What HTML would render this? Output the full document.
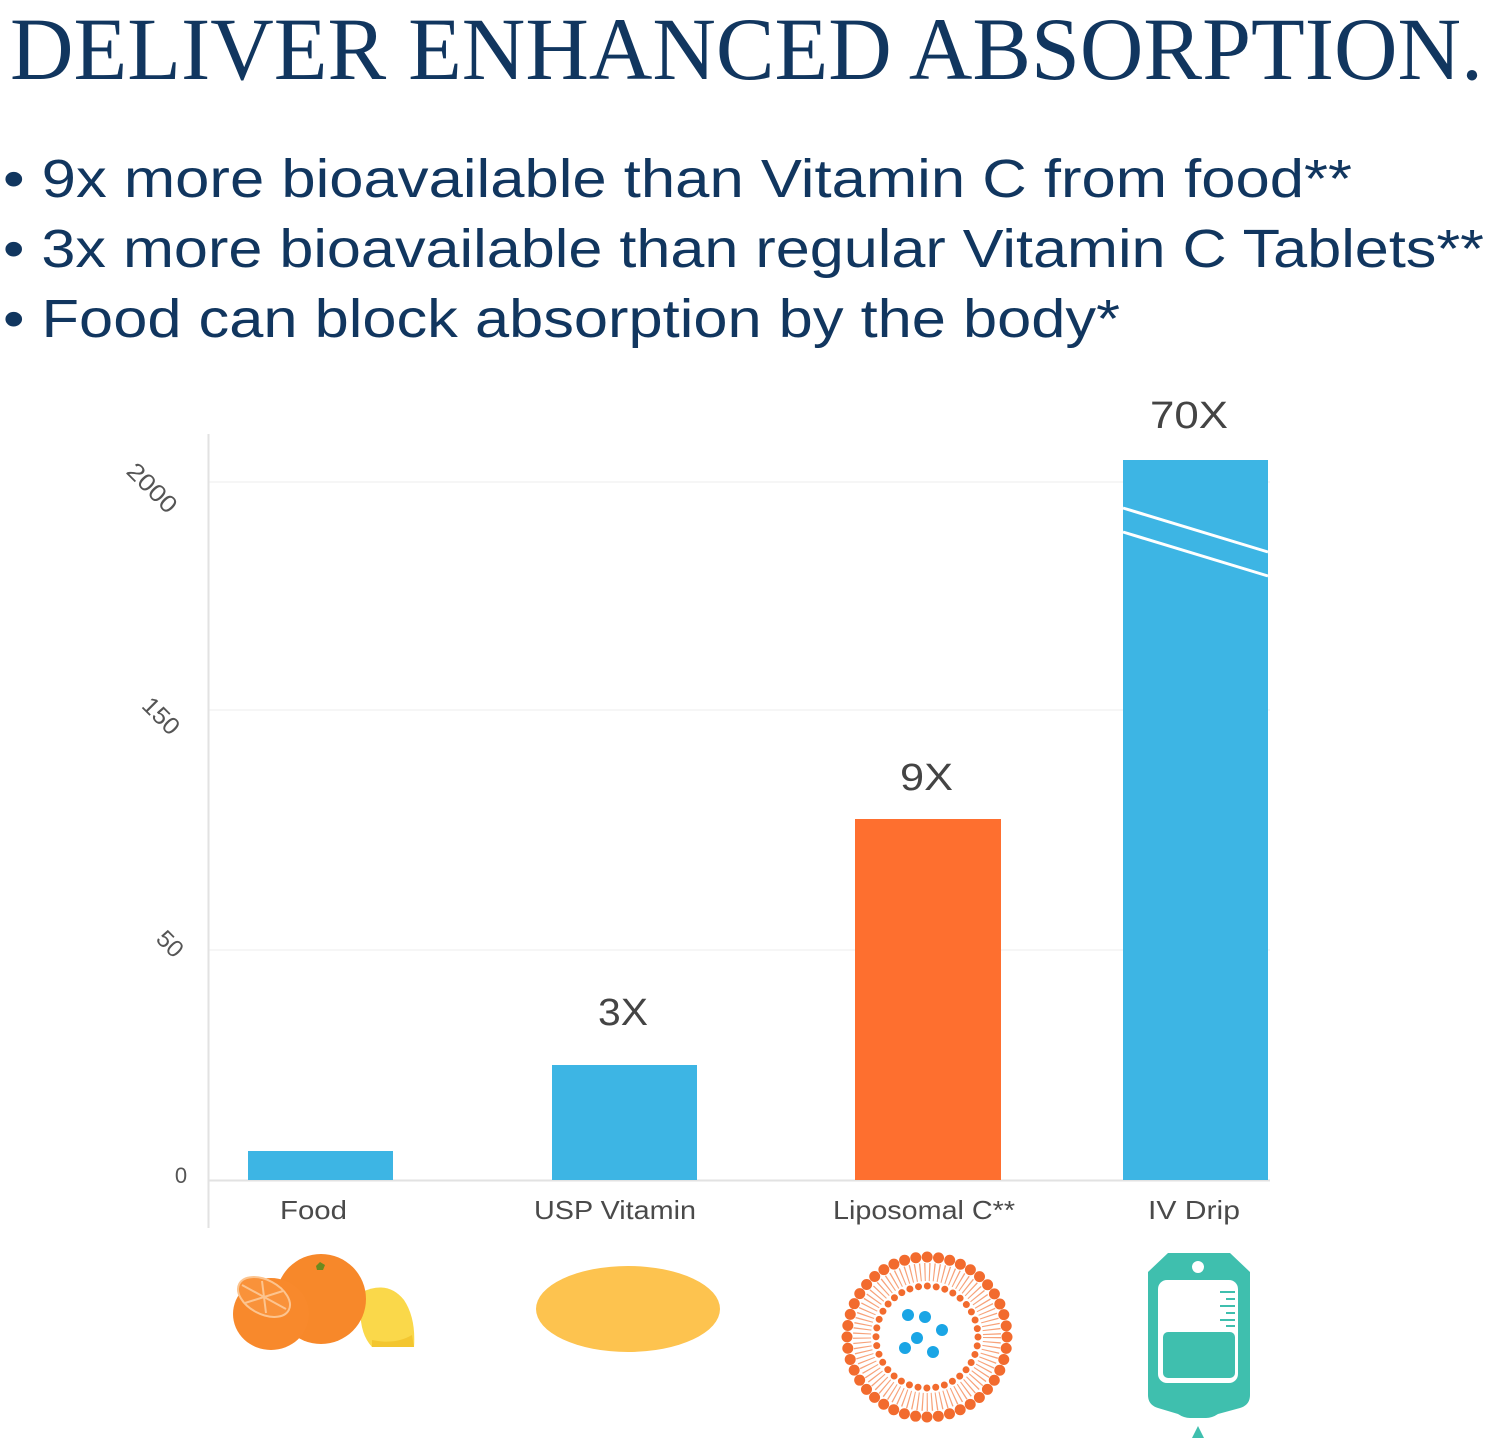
<!DOCTYPE html>
<html>
<head>
<meta charset="utf-8">
<style>
  html,body{margin:0;padding:0;background:#fff;}
  svg{display:block;}
</style>
</head>
<body>
<svg width="1491" height="1438" viewBox="0 0 1491 1438" xmlns="http://www.w3.org/2000/svg">
  <rect width="1491" height="1438" fill="#ffffff"/>

  <!-- Title -->
  <text x="10" y="79" font-family="Liberation Serif, serif" font-size="89" fill="#11365f" textLength="1473" lengthAdjust="spacingAndGlyphs">DELIVER ENHANCED ABSORPTION.</text>

  <!-- Bullets -->
  <g font-family="Liberation Sans, sans-serif" font-size="54" fill="#11365f">
    <text x="3" y="197" textLength="1349" lengthAdjust="spacingAndGlyphs">• 9x more bioavailable than Vitamin C from food**</text>
    <text x="3" y="267" textLength="1481" lengthAdjust="spacingAndGlyphs">• 3x more bioavailable than regular Vitamin C Tablets**</text>
    <text x="3" y="337" textLength="1117" lengthAdjust="spacingAndGlyphs">• Food can block absorption by the body*</text>
  </g>

  <!-- Gridlines -->
  <g stroke="#f3f3f3" stroke-width="1.5">
    <line x1="209" y1="482" x2="1270" y2="482"/>
    <line x1="209" y1="710" x2="1270" y2="710"/>
    <line x1="209" y1="950" x2="1270" y2="950"/>
  </g>

  <!-- Axis -->
  <line x1="208.5" y1="434" x2="208.5" y2="1228" stroke="#e2e2e2" stroke-width="2"/>
  <line x1="208" y1="1180.5" x2="1270" y2="1180.5" stroke="#e2e2e2" stroke-width="2"/>

  <!-- Tick labels -->
  <g font-family="Liberation Sans, sans-serif" font-size="24" fill="#555">
    <text transform="translate(152,488) rotate(45)" text-anchor="middle" dy="8" textLength="60" lengthAdjust="spacingAndGlyphs">2000</text>
    <text transform="translate(161,716) rotate(45)" text-anchor="middle" dy="8" textLength="42" lengthAdjust="spacingAndGlyphs">150</text>
    <text transform="translate(170,944) rotate(45)" text-anchor="middle" dy="8" textLength="27" lengthAdjust="spacingAndGlyphs">50</text>
    <text x="181" y="1183" text-anchor="middle" font-size="22">0</text>
  </g>

  <!-- Bars -->
  <rect x="248" y="1151" width="145" height="29" fill="#3db5e4"/>
  <rect x="552" y="1065" width="145" height="115" fill="#3db5e4"/>
  <rect x="855" y="819" width="146" height="361" fill="#fe6f2f"/>
  <rect x="1123" y="460" width="145" height="720" fill="#3db5e4"/>
  <!-- break lines -->
  <line x1="1123" y1="508" x2="1268" y2="552" stroke="#ffffff" stroke-width="3"/>
  <line x1="1123" y1="532" x2="1268" y2="576" stroke="#ffffff" stroke-width="3"/>

  <!-- Value labels -->
  <g font-family="Liberation Sans, sans-serif" font-size="38" fill="#444">
    <text x="598" y="1025" textLength="50" lengthAdjust="spacingAndGlyphs">3X</text>
    <text x="900" y="790" textLength="53" lengthAdjust="spacingAndGlyphs">9X</text>
    <text x="1150" y="428" textLength="78" lengthAdjust="spacingAndGlyphs">70X</text>
  </g>

  <!-- Category labels -->
  <g font-family="Liberation Sans, sans-serif" font-size="26" fill="#4a4a4a">
    <text x="280" y="1219" textLength="67" lengthAdjust="spacingAndGlyphs">Food</text>
    <text x="534" y="1219" textLength="162" lengthAdjust="spacingAndGlyphs">USP Vitamin</text>
    <text x="833" y="1219" textLength="182" lengthAdjust="spacingAndGlyphs">Liposomal C**</text>
    <text x="1148" y="1219" textLength="92" lengthAdjust="spacingAndGlyphs">IV Drip</text>
  </g>

  <!-- Food icon -->
  <path d="M362,1292 Q388,1280 404,1300 Q416,1318 414,1347 L372,1347 Q356,1330 362,1292 Z" fill="#fad84a"/>
  <path d="M372,1347 L414,1347 L412,1335 Q395,1345 372,1340 Z" fill="#f3c630"/>
  <circle cx="321" cy="1299" r="45" fill="#f7882a"/>
  <path d="M316,1266 l4,-4 l5,3 l-2,5 l-6,0 Z" fill="#6b8a1e"/>
  <ellipse cx="271" cy="1314" rx="38" ry="36" fill="#f8892c"/>
  <ellipse cx="264" cy="1297" rx="28" ry="17" transform="rotate(28 264 1297)" fill="#f9923a" stroke="#fcc48f" stroke-width="2"/>
  <g stroke="#fcc48f" stroke-width="2">
    <line x1="242" y1="1285" x2="286" y2="1309"/>
    <line x1="262" y1="1281" x2="266" y2="1313"/>
    <line x1="245" y1="1303" x2="283" y2="1291"/>
  </g>

  <!-- Pill icon -->
  <ellipse cx="628" cy="1309" rx="92" ry="43" fill="#fdc34f"/>

  <!-- Liposome icon -->
  <g fill="none">
    <circle cx="927" cy="1337" r="65" stroke="#f7a27a" stroke-width="18" stroke-dasharray="1.2 3.4"/>
    <circle cx="927" cy="1337" r="80" stroke="#f26b2e" stroke-width="11" stroke-linecap="round" stroke-dasharray="0 11.424"/>
    <circle cx="927" cy="1337" r="51" stroke="#f26b2e" stroke-width="7" stroke-linecap="round" stroke-dasharray="0 8.9"/>
  </g>
  <g fill="#1aa5e5">
    <circle cx="908" cy="1315" r="6"/>
    <circle cx="925" cy="1317" r="6"/>
    <circle cx="942" cy="1330" r="6"/>
    <circle cx="917" cy="1338" r="6"/>
    <circle cx="905" cy="1348" r="6"/>
    <circle cx="933" cy="1352" r="6"/>
  </g>

  <!-- IV bag icon -->
  <path d="M1168,1253 H1230 L1250,1272 V1395 Q1250,1405 1240,1408 L1218,1414 Q1212,1418 1206,1418 H1190 Q1184,1418 1178,1414 L1158,1408 Q1148,1405 1148,1395 V1272 Z" fill="#3fbfae"/>
  <circle cx="1198" cy="1267" r="6" fill="#ffffff"/>
  <rect x="1158" y="1280" width="80" height="103" rx="9" fill="#ffffff"/>
  <rect x="1163" y="1332" width="72" height="46" rx="5" fill="#3fbfae"/>
  <g stroke="#3fbfae" stroke-width="2">
    <line x1="1220" y1="1292" x2="1235" y2="1292"/>
    <line x1="1226" y1="1299" x2="1235" y2="1299"/>
    <line x1="1220" y1="1306" x2="1235" y2="1306"/>
    <line x1="1226" y1="1313" x2="1235" y2="1313"/>
    <line x1="1220" y1="1320" x2="1235" y2="1320"/>
    <line x1="1226" y1="1326" x2="1235" y2="1326"/>
  </g>
  <path d="M1192,1438 L1198,1426 L1204,1438 Z" fill="#3fbfae"/>
</svg>
</body>
</html>
